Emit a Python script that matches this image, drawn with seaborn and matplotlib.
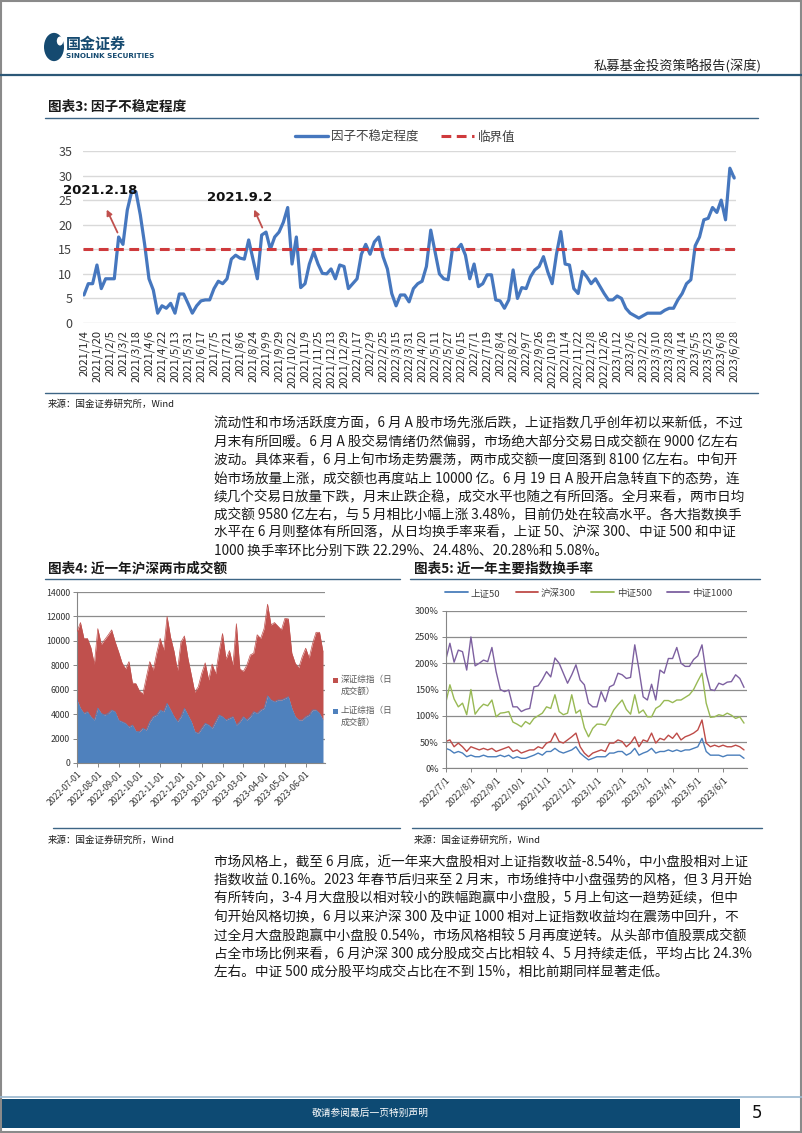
import numpy as np
import pandas as pd
import matplotlib
matplotlib.use("Agg")
import matplotlib.pyplot as plt
import seaborn as sns
from matplotlib.patches import Rectangle, Circle
from matplotlib.lines import Line2D

# ---------------- data ----------------
factor_dates = ["2021/1/4", "2021/1/20", "2021/2/5", "2021/3/2", "2021/3/18", "2021/4/6",
                "2021/4/22", "2021/5/13", "2021/5/31", "2021/6/17", "2021/7/5", "2021/7/21",
                "2021/8/6", "2021/8/24", "2021/9/9", "2021/9/29", "2021/10/22", "2021/11/9",
                "2021/11/25", "2021/12/13", "2021/12/29", "2022/1/17", "2022/2/9", "2022/2/25",
                "2022/3/15", "2022/3/31", "2022/4/20", "2022/5/11", "2022/5/27", "2022/6/15",
                "2022/7/1", "2022/7/19", "2022/8/4", "2022/8/22", "2022/9/7", "2022/9/26",
                "2022/10/19", "2022/11/4", "2022/11/22", "2022/12/8", "2022/12/26", "2023/1/12",
                "2023/2/6", "2023/2/22", "2023/3/10", "2023/3/28", "2023/4/14", "2023/5/5",
                "2023/5/23", "2023/6/8", "2023/6/28"]
# factor instability, one reading every 4 trading days (3 readings per date label)
factor_values = [5.7, 8, 8, 11.8, 7, 9, 9, 9, 17.5, 16, 23, 26.7, 26.7, 22, 16, 9, 6.7, 2, 3.5, 3,
                 4, 2, 5.9, 5.9, 4, 2, 3.5, 4.5, 4.7, 4.7, 7, 8.5, 8, 9, 13, 13.8, 13.2, 13, 16.9, 13,
                 9, 17.9, 18.5, 15, 17.5, 18.5, 20.5, 23.5, 12, 17.5, 7.2, 8, 12, 14.5, 12, 10.1, 10, 11, 9, 11.8,
                 11.5, 7, 8, 9, 14, 16, 14, 16.5, 17.5, 13.5, 11, 6, 3.5, 5.7, 5.7, 4.3, 7, 8, 8.5, 11.5,
                 18.9, 14.5, 10, 9, 8.8, 15, 14.9, 16, 13.8, 9, 12, 7.4, 8, 9.8, 9.8, 4.7, 4.5, 3, 4.7, 10.8,
                 5, 7.2, 7, 9.4, 10.8, 11.5, 13.5, 10.4, 8, 14, 18.6, 12, 11.8, 7, 6, 10.5, 9.4, 8, 9, 7.5,
                 6, 4.7, 4.7, 5.5, 5, 3, 2, 1.5, 1, 1.5, 2, 2, 2, 2, 2.6, 3, 3, 4.7, 6, 8,
                 8.8, 15.7, 17.5, 21, 21.3, 23.5, 22.5, 25, 21, 31.5, 29.5]
critical_value = 15

amount_months = ["2022-07-01", "2022-08-01", "2022-09-01", "2022-10-01", "2022-11-01", "2022-12-01",
                 "2023-01-01", "2023-02-01", "2023-03-01", "2023-04-01", "2023-05-01", "2023-06-01"]
# daily turnover (100m yuan), six readings per month
sh_amount = [5160, 4475, 4065, 4200, 3790, 3520, 4500, 4065, 3930, 4065, 4340, 4200,
             3500, 3380, 3250, 2950, 3110, 2600, 2565, 2840, 2700, 3380, 3790, 3930,
             4340, 4200, 4885, 4340, 3790, 3380, 3790, 4475, 3930, 3380, 2565, 2430,
             2840, 3250, 3110, 2840, 3380, 3930, 3790, 3520, 3660, 3790, 3110, 3380,
             3790, 3520, 3790, 4200, 4065, 4340, 4475, 5500, 5160, 5020, 5160, 5160,
             5290, 5430, 4475, 3790, 3520, 3520, 3790, 3930, 4340, 4340, 4065, 3520]
sz_amount = [5590, 7025, 6135, 6000, 5660, 4580, 6500, 5635, 6170, 6415, 6560, 5730,
             5600, 4820, 4450, 5350, 3440, 3900, 3335, 2810, 4300, 4920, 3810, 5070,
             5860, 5050, 7115, 5960, 5360, 4170, 6110, 5925, 4670, 3820, 3235, 3820,
             4500, 4950, 3690, 5260, 3920, 5170, 6810, 4980, 5540, 4210, 8290, 4320,
             3710, 4480, 5050, 4800, 6435, 5860, 6525, 7500, 6140, 6480, 6040, 5740,
             6550, 6370, 4525, 4360, 4280, 5180, 5610, 4670, 5460, 6360, 6635, 5580]

rate_months = ["2022/7/1", "2022/8/1", "2022/9/1", "2022/10/1", "2022/11/1", "2022/12/1",
               "2023/1/1", "2023/2/1", "2023/3/1", "2023/4/1", "2023/5/1", "2023/6/1"]
# turnover rate (%), six readings per month
sz50_rate = [38, 35, 29, 32, 29, 22, 25, 22, 22, 25, 22, 22, 22, 25, 22, 25, 19, 22, 19, 19,
             22, 25, 29, 25, 32, 32, 38, 32, 29, 32, 35, 41, 29, 22, 16, 19, 22, 22, 22, 29,
             29, 32, 32, 25, 29, 38, 25, 29, 32, 38, 29, 32, 32, 35, 32, 35, 32, 35, 35, 38,
             41, 57, 32, 25, 25, 25, 22, 25, 25, 25, 25, 19]
hs300_rate = [51, 54, 41, 48, 41, 32, 41, 38, 35, 38, 35, 38, 32, 35, 38, 41, 32, 35, 29, 32,
              35, 35, 41, 38, 48, 51, 67, 51, 48, 54, 60, 67, 41, 29, 22, 29, 32, 35, 32, 48,
              48, 54, 51, 41, 48, 60, 41, 54, 51, 67, 48, 57, 54, 63, 57, 67, 54, 60, 63, 67,
              73, 92, 48, 41, 44, 41, 44, 41, 41, 44, 41, 35]
zz500_rate = [124, 159, 132, 117, 124, 102, 150, 103, 114, 122, 119, 130, 98, 105, 106, 108, 88, 84, 79, 89,
              84, 95, 100, 105, 117, 114, 140, 108, 102, 105, 140, 105, 111, 77, 60, 76, 84, 84, 82, 95,
              111, 121, 130, 112, 103, 140, 105, 111, 98, 98, 114, 119, 129, 129, 125, 130, 130, 135, 140, 150,
              166, 181, 124, 97, 98, 102, 100, 105, 101, 95, 98, 86]
zz1000_rate = [206, 238, 202, 225, 222, 187, 250, 195, 200, 206, 203, 230, 184, 150, 146, 149, 117, 117, 108, 112,
               114, 155, 157, 169, 184, 174, 210, 200, 181, 162, 178, 197, 168, 159, 124, 117, 117, 146, 127, 155,
               159, 181, 178, 171, 173, 235, 188, 136, 130, 160, 130, 187, 181, 209, 209, 230, 200, 194, 194, 207,
               214, 235, 181, 150, 148, 162, 159, 164, 165, 178, 171, 154]

para1 = ["流动性和市场活跃度方面，6 月 A 股市场先涨后跌，上证指数几乎创年初以来新低，不过",
         "月末有所回暖。6 月 A 股交易情绪仍然偏弱，市场绝大部分交易日成交额在 9000 亿左右",
         "波动。具体来看，6 月上旬市场走势震荡，两市成交额一度回落到 8100 亿左右。中旬开",
         "始市场放量上涨，成交额也再度站上 10000 亿。6 月 19 日 A 股开启急转直下的态势，连",
         "续几个交易日放量下跌，月末止跌企稳，成交水平也随之有所回落。全月来看，两市日均",
         "成交额 9580 亿左右，与 5 月相比小幅上涨 3.48%，目前仍处在较高水平。各大指数换手",
         "水平在 6 月则整体有所回落，从日均换手率来看，上证 50、沪深 300、中证 500 和中证",
         "1000 换手率环比分别下跌 22.29%、24.48%、20.28%和 5.08%。"]
para2 = ["市场风格上，截至 6 月底，近一年来大盘股相对上证指数收益-8.54%，中小盘股相对上证",
         "指数收益 0.16%。2023 年春节后归来至 2 月末，市场维持中小盘强势的风格，但 3 月开始",
         "有所转向，3-4 月大盘股以相对较小的跌幅跑赢中小盘股，5 月上旬这一趋势延续，但中",
         "旬开始风格切换，6 月以来沪深 300 及中证 1000 相对上证指数收益均在震荡中回升，不",
         "过全月大盘股跑赢中小盘股 0.54%，市场风格相较 5 月再度逆转。从头部市值股票成交额",
         "占全市场比例来看，6 月沪深 300 成分股成交占比相较 4、5 月持续走低，平均占比 24.3%",
         "左右。中证 500 成分股平均成交占比在不到 15%，相比前期同样显著走低。"]

# ---------------- style ----------------
sns.set_theme(style="white")
plt.rcParams['font.family'] = ['Noto Sans CJK SC', 'DejaVu Sans']
plt.rcParams['axes.unicode_minus'] = False

W, H = 802, 1133
fig = plt.figure(figsize=(W / 100, H / 100), dpi=100)
fig.patch.set_facecolor("white")

NAVY = "#154a70"
RULE = "#3d6585"
TXT = "#1a1a1a"


def rect(l, t, r, b):
    return [l / W, 1 - b / H, (r - l) / W, (b - t) / H]


def ftext(x, y, s, **kw):
    kw.setdefault("va", "center")
    kw.setdefault("color", TXT)
    return fig.text(x / W, 1 - y / H, s, **kw)


def hline(x0, x1, y, color=RULE, lw=1.0):
    fig.add_artist(Line2D([x0 / W, x1 / W], [1 - y / H, 1 - y / H], color=color, lw=lw))


# page frame
fig.add_artist(Rectangle((0.001, 0.001), 0.998, 0.998, transform=fig.transFigure,
                         fill=False, edgecolor="#8a8a8a", lw=1.5))

# ---------------- header ----------------
fig.add_artist(Circle((54 / W, 1 - 47 / H), 10 / W, transform=fig.transFigure,
                      facecolor=NAVY, edgecolor="none"))
fig.add_artist(Circle((60 / W, 1 - 41 / H), 3.2 / W, transform=fig.transFigure,
                      facecolor="white", edgecolor="none"))
ftext(66, 44, "国金证券", fontsize=10.8, fontweight="bold", color=NAVY)
ftext(66, 55.5, "SINOLINK SECURITIES", fontsize=5.2, fontweight="bold", color=NAVY,
      family=["DejaVu Sans"])
ftext(762, 66, "私募基金投资策略报告(深度)", fontsize=9.5, ha="right", color="#222222")
hline(0, W, 75, color="#2c5877", lw=1.6)

# ---------------- chart 3 ----------------
ftext(48, 107, "图表3: 因子不稳定程度", fontsize=9.8, fontweight="bold", style="italic")
hline(45, 758, 118)

BLUE3 = "#4677be"
RED3 = "#cf3a3c"
ax3 = fig.add_axes(rect(83.3, 151, 735.5, 323))
df3 = pd.DataFrame({"t": np.arange(len(factor_values)) / 3.0, "v": factor_values})
sns.lineplot(data=df3, x="t", y="v", ax=ax3, color=BLUE3, lw=2.3, legend=False)
ax3.axhline(critical_value, color=RED3, lw=2.2, dashes=(3.2, 1.8))
ax3.set_xlim(-0.05, 50.1)
ax3.set_ylim(0, 35)
ax3.set_yticks(range(0, 36, 5))
ax3.set_xticks(range(len(factor_dates)))
ax3.set_xticklabels(factor_dates, rotation=90, fontsize=8, color="#262626")
ax3.tick_params(axis="y", labelsize=9, labelcolor="#404040", length=0, pad=8)
ax3.tick_params(axis="x", length=0, pad=5)
ax3.grid(axis="y", color="#d9d9d9", lw=1.0)
ax3.grid(axis="x", visible=False)
for s in ax3.spines.values():
    s.set_visible(False)
ax3.set_xlabel("")
ax3.set_ylabel("")

ax3.annotate("", xy=(1.66, 23.6), xytext=(2.67, 17.9),
             arrowprops=dict(arrowstyle="-|>", color="#c0504d", lw=1.3, mutation_scale=8))
ax3.text(1.25, 27.0, "2021.2.18", ha="center", va="center", fontsize=9.5, fontweight="bold",
         family=["DejaVu Sans"], color="#111111")
ax3.annotate("", xy=(13.0, 23.6), xytext=(13.8, 18.9),
             arrowprops=dict(arrowstyle="-|>", color="#c0504d", lw=1.3, mutation_scale=8))
ax3.text(12.0, 25.5, "2021.9.2", ha="center", va="center", fontsize=9.5, fontweight="bold",
         family=["DejaVu Sans"], color="#111111")

h3 = [Line2D([], [], color=BLUE3, lw=2.4), Line2D([], [], color=RED3, lw=2.2, dashes=(3.2, 1.8))]
fig.legend(h3, ["因子不稳定程度", "临界值"], loc="center", bbox_to_anchor=(405 / W, 1 - 137 / H),
           ncol=2, frameon=False, fontsize=9, handlelength=2.6, columnspacing=1.8,
           handletextpad=0.3, labelcolor="#404040")

hline(45, 758, 393)
ftext(48, 404, "来源：国金证券研究所，Wind", fontsize=6.8)

# ---------------- paragraph 1 ----------------
for i, line in enumerate(para1):
    ftext(214, 423 + i * 18.3, line, fontsize=9.8)

# ---------------- chart 4 ----------------
ftext(48, 568, "图表4: 近一年沪深两市成交额", fontsize=9.8, fontweight="bold", style="italic")
ftext(414, 568, "图表5: 近一年主要指数换手率", fontsize=9.8, fontweight="bold", style="italic")
hline(45, 400, 579)
hline(410, 760, 579)

BLUE4 = "#4f81bd"
RED4 = "#c0504d"
ax4 = fig.add_axes(rect(77, 592, 325, 763))
m4 = np.arange(len(sh_amount)) / 6.0
sh = np.array(sh_amount, dtype=float)
tot = sh + np.array(sz_amount, dtype=float)
ax4.fill_between(m4, 0, sh, color=BLUE4, lw=0, zorder=2)
ax4.fill_between(m4, sh, tot, color=RED4, lw=0, zorder=2)
sns.lineplot(x=m4, y=tot, ax=ax4, color=RED4, lw=0.5, zorder=3)
sns.lineplot(x=m4, y=sh, ax=ax4, color=BLUE4, lw=0.5, zorder=3)
ax4.set_xlim(0, 11.93)
ax4.set_ylim(0, 14000)
ax4.set_yticks(range(0, 14001, 2000))
ax4.set_yticklabels([str(v) for v in range(0, 14001, 2000)], fontsize=6.3, color="#333333")
ax4.set_xticks(range(len(amount_months)))
ax4.set_xticklabels(amount_months, rotation=45, ha="right", rotation_mode="anchor",
                    fontsize=6.3, color="#333333")
ax4.grid(axis="y", color="#8c8c8c", lw=0.9, zorder=0)
ax4.grid(axis="x", visible=False)
ax4.set_axisbelow(True)
for k in ["top", "right"]:
    ax4.spines[k].set_visible(False)
for k in ["left", "bottom"]:
    ax4.spines[k].set_color("#868686")
    ax4.spines[k].set_linewidth(0.8)
ax4.tick_params(axis="both", direction="out", length=3, width=0.7, color="#868686", pad=2,
                bottom=True, left=True)

fig.add_artist(Rectangle((333 / W, 1 - 683 / H), 5 / W, 5 / H, transform=fig.transFigure,
                         facecolor=RED4, edgecolor="none"))
ftext(341, 679, "深证综指（日", fontsize=6.2, color="#595959", ha="left")
ftext(341, 691, "成交额）", fontsize=6.2, color="#595959", ha="left")
fig.add_artist(Rectangle((333 / W, 1 - 714 / H), 5 / W, 5 / H, transform=fig.transFigure,
                         facecolor=BLUE4, edgecolor="none"))
ftext(341, 710, "上证综指（日", fontsize=6.2, color="#595959", ha="left")
ftext(341, 722, "成交额）", fontsize=6.2, color="#595959", ha="left")

# ---------------- chart 5 ----------------
C50, C300, C500, C1000 = "#4a7ebb", "#be4b48", "#98b954", "#7d60a0"
ax5 = fig.add_axes(rect(445.7, 610.7, 746.7, 768.3))
m5 = np.arange(len(sz50_rate)) / 6.0
df5 = pd.DataFrame({"m": np.tile(m5, 4),
                    "v": sz50_rate + hs300_rate + zz500_rate + zz1000_rate,
                    "idx": ["上证50"] * len(m5) + ["沪深300"] * len(m5) + ["中证500"] * len(m5)
                           + ["中证1000"] * len(m5)})
pal5 = {"上证50": C50, "沪深300": C300, "中证500": C500, "中证1000": C1000}
sns.lineplot(data=df5, x="m", y="v", hue="idx", palette=pal5, ax=ax5, lw=1.0, legend=False)
ax5.set_xlim(0, 11.94)
ax5.set_ylim(0, 300)
ax5.set_yticks(range(0, 301, 50))
ax5.set_yticklabels([f"{v}%" for v in range(0, 301, 50)], fontsize=6.6, color="#333333")
ax5.set_xticks(range(len(rate_months)))
ax5.set_xticklabels(rate_months, rotation=45, ha="right", rotation_mode="anchor",
                    fontsize=6.6, color="#333333")
ax5.grid(axis="y", color="#8c8c8c", lw=0.9)
ax5.grid(axis="x", visible=False)
for k in ["top", "right"]:
    ax5.spines[k].set_visible(False)
for k in ["left", "bottom"]:
    ax5.spines[k].set_color("#868686")
    ax5.spines[k].set_linewidth(0.8)
ax5.tick_params(axis="both", direction="out", length=3, width=0.7, color="#868686", pad=2,
                bottom=True, left=True)
ax5.set_xlabel("")
ax5.set_ylabel("")
h5 = [Line2D([], [], color=c, lw=1.3) for c in (C50, C300, C500, C1000)]
fig.legend(h5, list(pal5.keys()), loc="center", bbox_to_anchor=(589 / W, 1 - 593 / H), ncol=4,
           frameon=False, fontsize=6.8, handlelength=2.4, columnspacing=1.6, handletextpad=0.3,
           labelcolor="#404040")

hline(53, 400, 828)
hline(412, 762, 828)
ftext(48, 840, "来源：国金证券研究所，Wind", fontsize=6.8)
ftext(414, 840, "来源：国金证券研究所，Wind", fontsize=6.8)

# ---------------- paragraph 2 ----------------
for i, line in enumerate(para2):
    ftext(214, 862 + i * 18.3, line, fontsize=9.8)

# ---------------- footer ----------------
hline(0, W, 1097, color="#9ab8cf", lw=1.2)
fig.add_artist(Rectangle((2 / W, 1 - 1128 / H), 738 / W, 29 / H, transform=fig.transFigure,
                         facecolor="#0d4a73", edgecolor="none"))
ftext(370, 1113, "敬请参阅最后一页特别声明", fontsize=7, color="white", ha="center")
ftext(757, 1113, "5", fontsize=12, color="#111111", ha="center", family=["DejaVu Sans"])

fig.savefig("out.png", dpi=100, facecolor="white")
